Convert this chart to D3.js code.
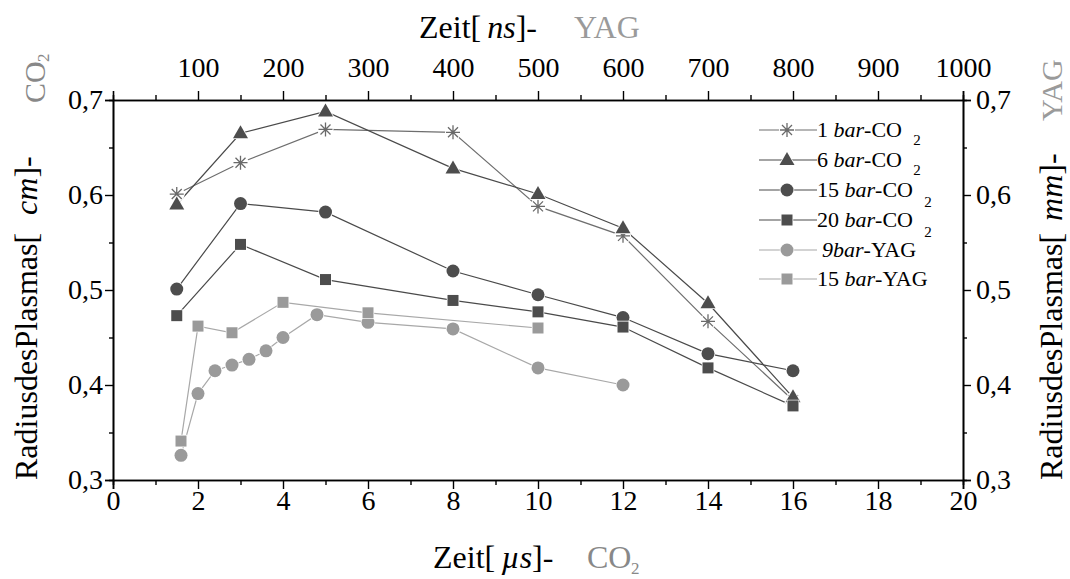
<!DOCTYPE html>
<html>
<head>
<meta charset="utf-8">
<script src="https://cdn.jsdelivr.net/npm/d3@7"></script>
<style>
  html, body { margin: 0; padding: 0; background: #fff; }
  svg, svg text { font-family: "Liberation Serif", "Times New Roman", Times, Tinos, "DejaVu Serif", "Noto Serif", serif; }
</style>
</head>
<body>
<svg id="chart" width="1070" height="579"></svg>
<script>
// ---------- data ----------
const timeCO2 = [1.5, 3, 5, 8, 10, 12, 14, 16];          // µs
const bar1CO2  = [0.601, 0.634, 0.669, 0.666, 0.588, 0.557, 0.467, 0.384];
const bar6CO2  = [0.590, 0.665, 0.688, 0.628, 0.601, 0.565, 0.486, 0.387];
const bar15CO2 = [0.501, 0.591, 0.582, 0.520, 0.495, 0.471, 0.433, 0.415];
const bar20CO2 = [0.473, 0.548, 0.511, 0.489, 0.477, 0.461, 0.418, 0.378];

const timeYAG9  = [80, 100, 120, 140, 160, 180, 200, 240, 300, 400, 500, 600]; // ns
const bar9YAG   = [0.326, 0.391, 0.415, 0.421, 0.427, 0.436, 0.450, 0.474, 0.466, 0.459, 0.418, 0.400];
const timeYAG15 = [80, 100, 140, 200, 300, 500];
const bar15YAG  = [0.341, 0.462, 0.455, 0.487, 0.476, 0.460];

const xTicksBottom = [0, 2, 4, 6, 8, 10, 12, 14, 16, 18, 20];
const xTicksTop = [100, 200, 300, 400, 500, 600, 700, 800, 900, 1000];
const yTicks = [0.3, 0.4, 0.5, 0.6, 0.7];

// ---------- setup ----------
const FONT = '"Liberation Serif", "Times New Roman", Times, Tinos, "DejaVu Serif", "Noto Serif", serif';
const svg = d3.select("#chart");
const L = 113, R = 963, T = 100, B = 480;
const x = d3.scaleLinear().domain([0, 20]).range([L, R]);
const xTop = d3.scaleLinear().domain([0, 1000]).range([L, R]);
const y = d3.scaleLinear().domain([0.3, 0.7]).range([B, T]);

const DARK = "#4d4d4d", STARC = "#6a6a6a", LIGHT = "#9a9a9a";
const fmt = d => d.toFixed(1).replace(".", ",");

function styleAxis(g, fs) {
  g.attr("font-family", FONT);
  g.select(".domain").attr("stroke", "#000").attr("stroke-width", 1.6);
  g.selectAll(".tick line").attr("stroke", "#000").attr("stroke-width", 1.4);
  g.selectAll("text").attr("font-size", fs).attr("fill", "#000").style("font-family", FONT);
}

// minor ticks
const minorX = d3.range(1, 20, 2);
const minorTop = d3.range(50, 1000, 100);
const minorY = [0.35, 0.45, 0.55, 0.65];

svg.append("g").attr("transform", `translate(0,${B})`)
  .call(d3.axisBottom(x).tickValues(minorX).tickSize(5).tickFormat("")).call(g => styleAxis(g, 28));
svg.append("g").attr("transform", `translate(0,${B})`)
  .call(d3.axisBottom(x).tickValues(xTicksBottom).tickSize(9).tickPadding(1).tickFormat(d3.format("d")))
  .call(g => styleAxis(g, 28));

svg.append("g").attr("transform", `translate(0,${T})`)
  .call(d3.axisTop(xTop).tickValues(minorTop).tickSize(5).tickFormat("")).call(g => styleAxis(g, 28));
svg.append("g").attr("transform", `translate(0,${T})`)
  .call(d3.axisTop(xTop).tickValues(xTicksTop).tickSize(9).tickPadding(14).tickFormat(d3.format("d")))
  .call(g => styleAxis(g, 28));

svg.append("g").attr("transform", `translate(${L},0)`)
  .call(d3.axisLeft(y).tickValues(minorY).tickSize(4).tickFormat("")).call(g => styleAxis(g, 28));
svg.append("g").attr("transform", `translate(${L},0)`)
  .call(d3.axisLeft(y).tickValues(yTicks).tickSize(8).tickPadding(2).tickFormat(fmt))
  .call(g => styleAxis(g, 28));

svg.append("g").attr("transform", `translate(${R},0)`)
  .call(d3.axisRight(y).tickValues(minorY).tickSize(4).tickFormat("")).call(g => styleAxis(g, 28));
svg.append("g").attr("transform", `translate(${R},0)`)
  .call(d3.axisRight(y).tickValues(yTicks).tickSize(8).tickPadding(5).tickFormat(fmt))
  .call(g => styleAxis(g, 28));

// ---------- markers ----------
const shapes = {
  star: "M0,-7L0,7M-7,0L7,0M-5,-5L5,5M-5,5L5,-5",
  triangle: "M0,-8L7.5,5L-7.5,5Z",
  circle: d3.symbol().type(d3.symbolCircle).size(Math.PI * 6.5 * 6.5)(),
  square: d3.symbol().type(d3.symbolSquare).size(121)()
};

function drawMarker(g, shape, color) {
  if (shape === "star") {
    g.append("circle").attr("r", 8).attr("fill", "#fff");
    g.append("path").attr("d", shapes.star).attr("fill", "none")
      .attr("stroke", color).attr("stroke-width", 1.3);
  } else {
    g.append("path").attr("d", shapes[shape]).attr("fill", color)
      .attr("stroke", "#fff").attr("stroke-width", 1.5).attr("paint-order", "stroke");
  }
}

const series = [
  { xs: timeCO2, ys: bar1CO2, sx: x, shape: "star", mc: STARC, lc: "#6e6e6e", label: ["1 ", "bar", "-CO"], sub: [917, 15] },
  { xs: timeCO2, ys: bar6CO2, sx: x, shape: "triangle", mc: DARK, lc: "#4a4a4a", label: ["6 ", "bar", "-CO"], sub: [917, 15] },
  { xs: timeCO2, ys: bar15CO2, sx: x, shape: "circle", mc: DARK, lc: "#4a4a4a", label: ["15 ", "bar", "-CO"], sub: [928, 17] },
  { xs: timeCO2, ys: bar20CO2, sx: x, shape: "square", mc: DARK, lc: "#4a4a4a", label: ["20 ", "bar", "-CO"], sub: [928, 17] },
  { xs: timeYAG9, ys: bar9YAG, sx: xTop, shape: "circle", mc: LIGHT, lc: "#a8a8a8", label: ["", "9bar", "-YAG"], sub: null, indent: 5 },
  { xs: timeYAG15, ys: bar15YAG, sx: xTop, shape: "square", mc: LIGHT, lc: "#a8a8a8", label: ["15 ", "bar", "-YAG"], sub: null }
];

const line = d3.line();
series.forEach(s => {
  const pts = s.xs.map((t, i) => [s.sx(t), y(s.ys[i])]);
  svg.append("path").attr("d", line(pts)).attr("fill", "none")
    .attr("stroke", s.lc).attr("stroke-width", 1.2);
});
series.forEach(s => {
  s.xs.forEach((t, i) => {
    const g = svg.append("g").attr("transform", `translate(${s.sx(t)},${y(s.ys[i])})`);
    drawMarker(g, s.shape, s.mc);
  });
});

// ---------- legend ----------
const legRows = [130, 160, 190, 220, 250, 279];
series.forEach((s, i) => {
  const ly = legRows[i];
  const g = svg.append("g");
  g.append("line").attr("x1", 759).attr("x2", 817).attr("y1", ly).attr("y2", ly)
    .attr("stroke", s.lc).attr("stroke-width", 1.2);
  drawMarker(g.append("g").attr("transform", `translate(787,${ly})`), s.shape, s.mc);
  const t = g.append("text").attr("x", 817 + (s.indent || 0)).attr("y", ly + 7)
    .attr("font-size", 22).attr("fill", "#000");
  t.append("tspan").text(s.label[0]);
  t.append("tspan").attr("font-style", "italic").text(s.label[1]);
  t.append("tspan").text(s.label[2]);
  if (s.sub) {
    g.append("text").attr("x", s.sub[0]).attr("y", ly + s.sub[1])
      .attr("font-size", 15).attr("text-anchor", "middle").text("2");
  }
});

// ---------- titles ----------
// top
const tt = svg.append("text").attr("x", 419).attr("y", 38).attr("font-size", 32).attr("fill", "#000");
tt.append("tspan").text("Zeit[");
tt.append("tspan").attr("dx", 6).attr("font-style", "italic").text("ns");
tt.append("tspan").text("]-");
svg.append("text").attr("x", 574).attr("y", 38).attr("font-size", 32).attr("fill", LIGHT).text("YAG");

// bottom
const bt = svg.append("text").attr("x", 433).attr("y", 568).attr("font-size", 32).attr("fill", "#000");
bt.append("tspan").text("Zeit[");
bt.append("tspan").attr("dx", 6).attr("font-style", "italic").text("µs");
bt.append("tspan").text("]-");
svg.append("text").attr("x", 587).attr("y", 568).attr("font-size", 32).attr("fill", "#888").text("CO");
svg.append("text").attr("x", 631).attr("y", 574).attr("font-size", 17).attr("fill", "#888").text("2");

// left
const lt = svg.append("text").attr("transform", "translate(37,480) rotate(-90)")
  .attr("font-size", 32).attr("fill", "#000");
lt.append("tspan").text("RadiusdesPlasmas[");
lt.append("tspan").attr("dx", 18).attr("font-style", "italic").text("cm");
lt.append("tspan").text("]-");

// right
const rt = svg.append("text").attr("transform", "translate(1062,480) rotate(-90)")
  .attr("font-size", 32).attr("fill", "#000");
rt.append("tspan").text("RadiusdesPlasmas[");
rt.append("tspan").attr("dx", 12).attr("font-style", "italic").text("mm");
rt.append("tspan").text("]-");

// corner labels
svg.append("text").attr("transform", "translate(45,103) rotate(-90)")
  .attr("font-size", 30).attr("fill", "#888").text("CO");
svg.append("text").attr("transform", "translate(49,62) rotate(-90)")
  .attr("font-size", 17).attr("fill", "#888").text("2");
svg.append("text").attr("transform", "translate(1062,121) rotate(-90)")
  .attr("font-size", 30).attr("fill", LIGHT).text("YAG");
</script>
</body>
</html>
